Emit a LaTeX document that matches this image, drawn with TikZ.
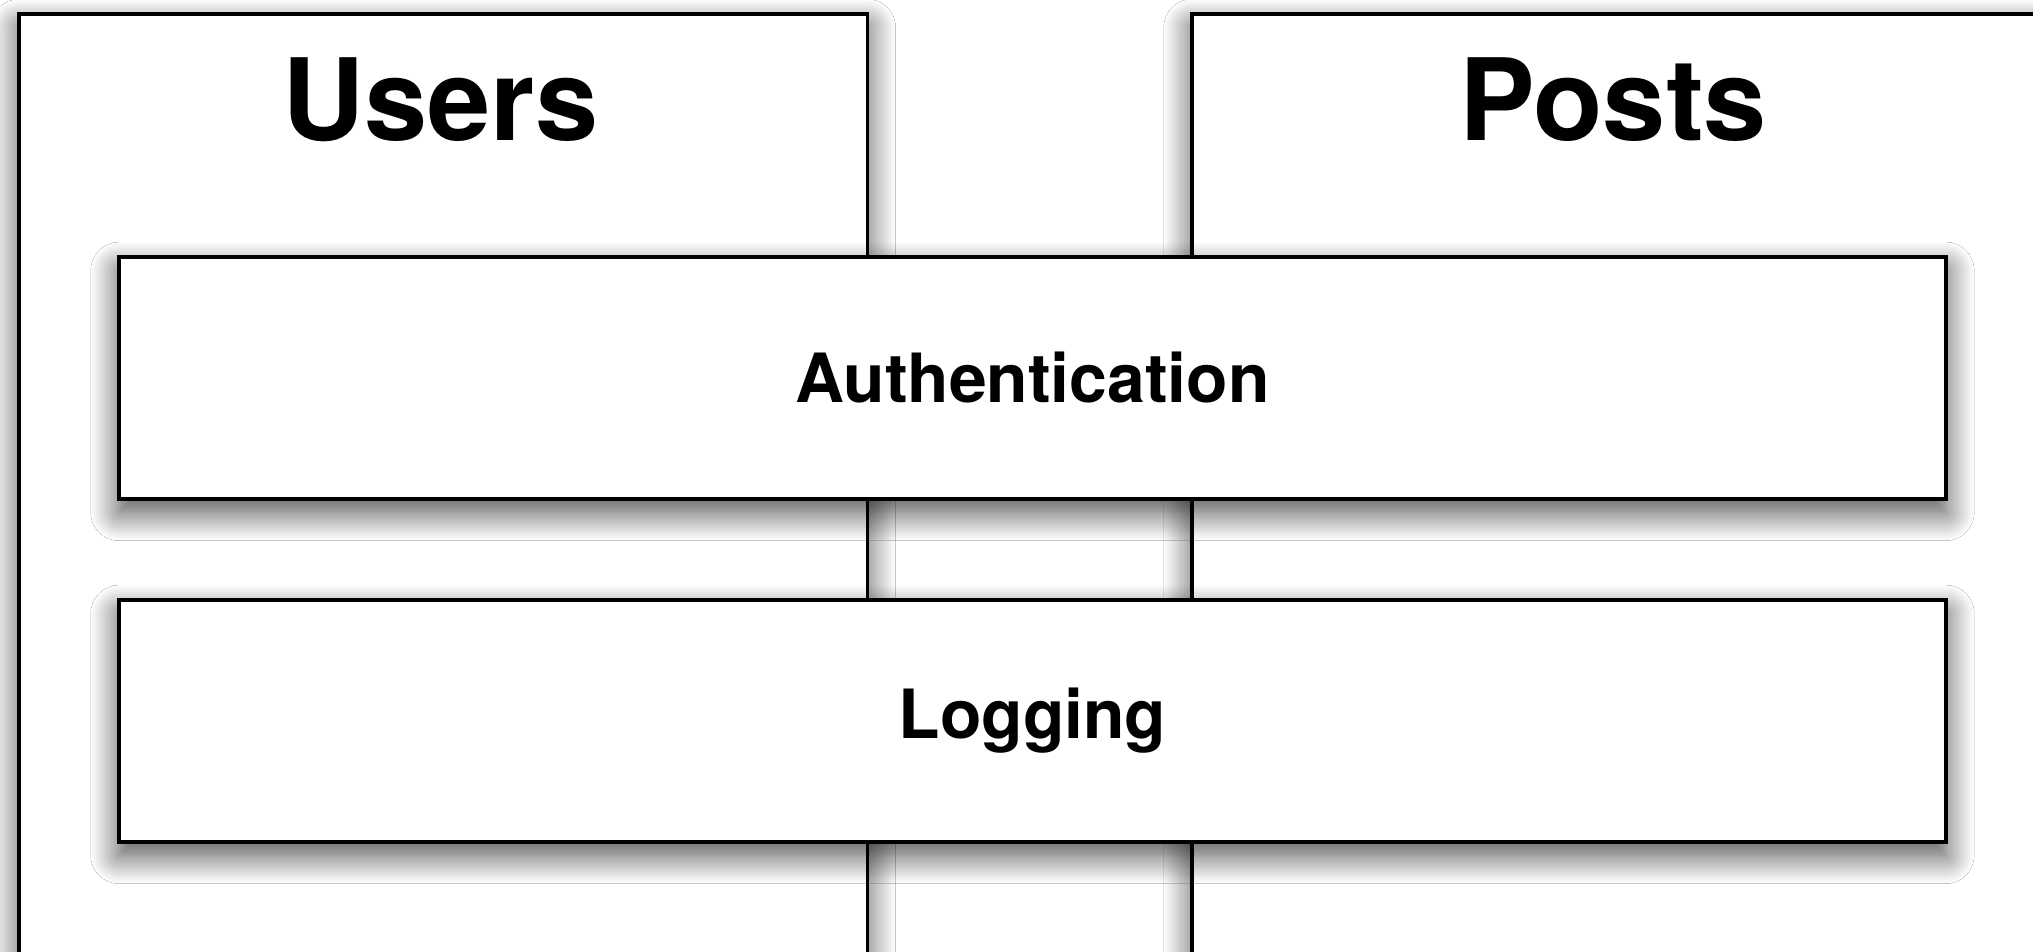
\documentclass[tikz,border=0pt]{standalone}
\usepackage{fontspec}
\setmainfont{TeX Gyre Heros}
\usetikzlibrary{shadows.blur}

\begin{document}
\begin{tikzpicture}[x=0.01cm,y=-0.01cm,
    box/.style={draw=black,line width=1.1pt,fill=white,inner sep=0pt,anchor=north west,
      blur shadow={shadow xshift=0pt,shadow yshift=-3.8pt,shadow blur radius=8pt,shadow opacity=72,shadow blur steps=16}},
    column/.style={box,minimum width=8.48cm,minimum height=10cm},
    layer/.style={box,minimum width=18.26cm,minimum height=2.42cm,font=\fontsize{19.3}{23}\selectfont\bfseries},
    title/.style={anchor=base,font=\fontsize{32.3}{38}\selectfont\bfseries}]
    \clip (0,0) rectangle (2033,952);
    \fill[white] (0,0) rectangle (2033,952);

    % the two services
    \node[column] (users) at (17,12) {};
    \node[column] (posts) at (1190,12) {};
    \node[title] (userstitle) at ([xshift=-0.03cm,yshift=-1.28cm]users.north) {Users};
    \node[title] (poststitle) at ([xshift=-0.03cm,yshift=-1.28cm]posts.north) {Posts};

    % cross-cutting layers
    \node[layer] (auth) at (117,255) {Authentication};
    \node[layer] (logging) at (117,598) {Logging};
\end{tikzpicture}
\end{document}
